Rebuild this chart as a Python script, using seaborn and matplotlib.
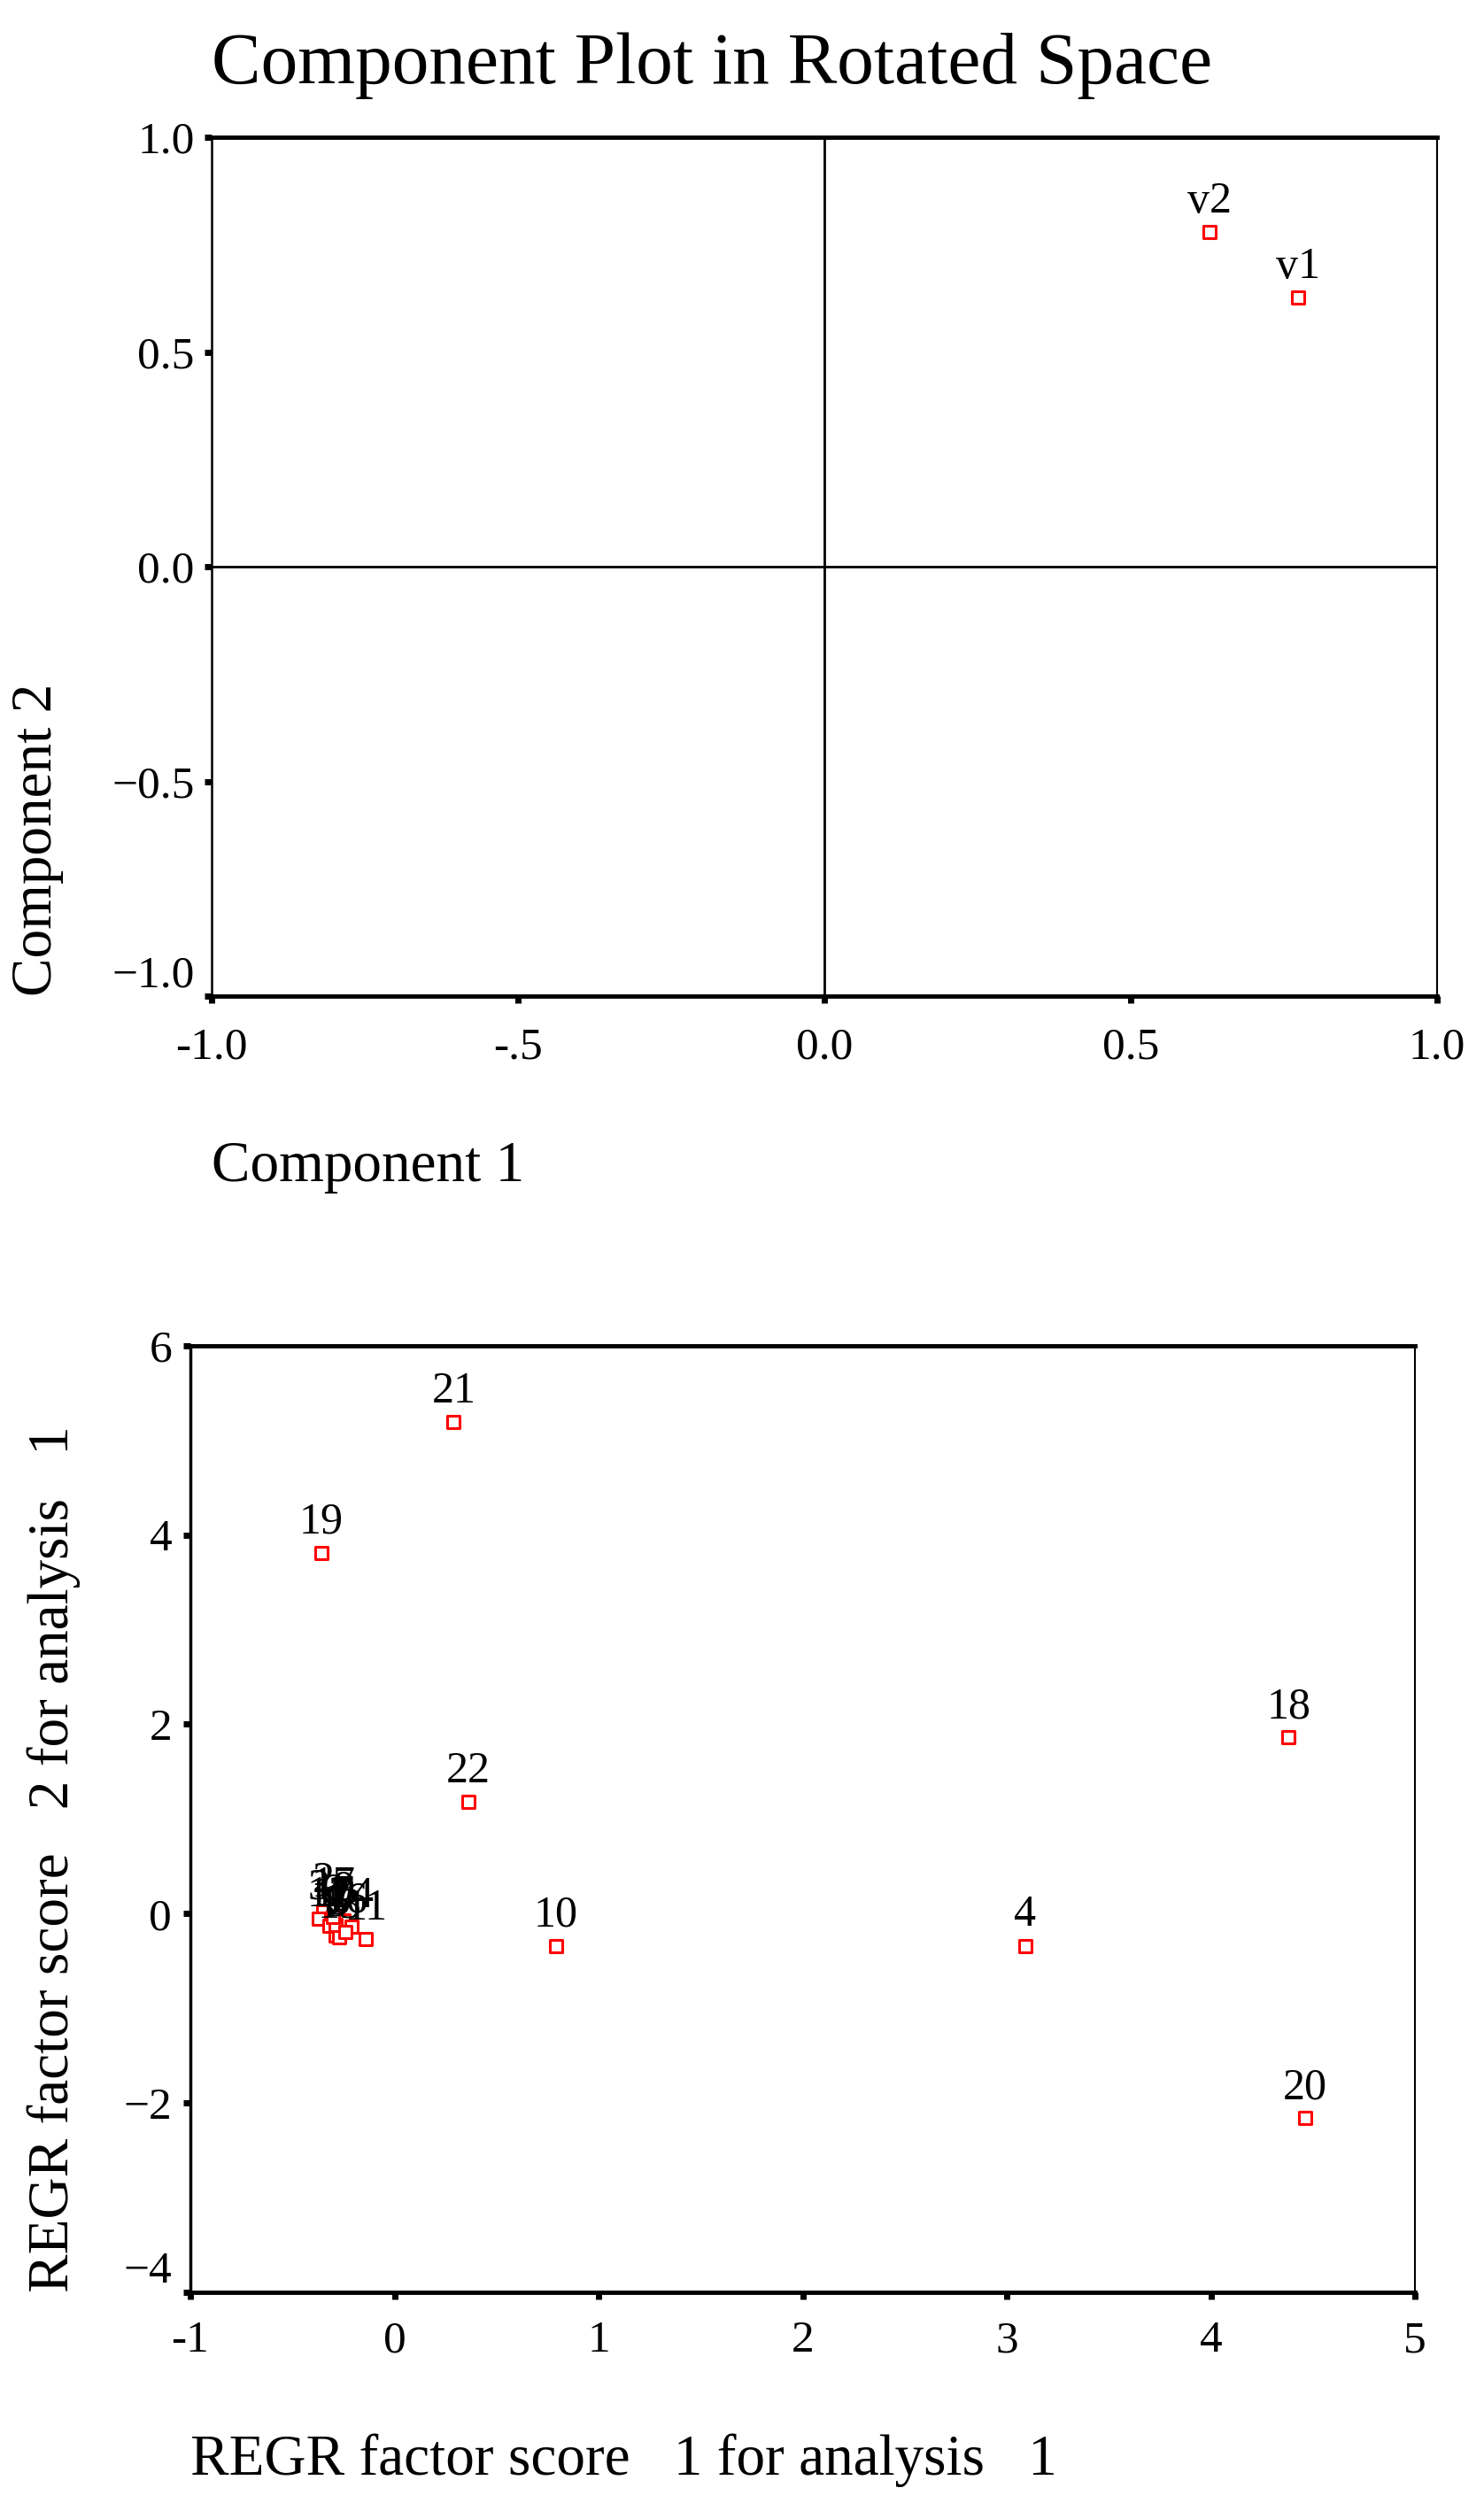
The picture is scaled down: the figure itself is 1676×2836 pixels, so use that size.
import matplotlib
matplotlib.use("Agg")
import matplotlib.pyplot as plt
import seaborn as sns
import pandas as pd

# component loadings (rotated)
var_names = ["v1", "v2"]
comp1 = [0.773, 0.629]
comp2 = [0.627, 0.780]

# regression factor scores per case
case_ids = [1, 2, 3, 4, 5, 6, 7, 8, 9, 10, 11,
            12, 13, 14, 15, 16, 17, 18, 19, 20, 21, 22]
score1 = [-0.28, -0.35, -0.37, 3.09, -0.27, -0.31, -0.26, -0.29, -0.25, 0.79, -0.14,
          -0.32, -0.27, -0.21, -0.29, -0.24, -0.30, 4.38, -0.36, 4.46, 0.29, 0.36]
score2 = [-0.18, 0.02, -0.05, -0.34, -0.21, -0.10, -0.15, -0.23, -0.07, -0.34, -0.27,
          -0.13, -0.25, -0.14, -0.12, -0.19, -0.03, 1.86, 3.81, -2.16, 5.19, 1.18]

top_xticks = [-1.0, -0.5, 0.0, 0.5, 1.0]
top_xlabels = ["-1.0", "-.5", "0.0", "0.5", "1.0"]
top_yticks = [-1.0, -0.5, 0.0, 0.5, 1.0]
top_ylabels = ["\u22121.0", "\u22120.5", "0.0", "0.5", "1.0"]
bot_xticks = [-1, 0, 1, 2, 3, 4, 5]
bot_xlabels = ["-1", "0", "1", "2", "3", "4", "5"]
bot_yticks = [-4, -2, 0, 2, 4, 6]
bot_ylabels = ["\u22124", "\u22122", "0", "2", "4", "6"]

df_load = pd.DataFrame({"c1": comp1, "c2": comp2, "name": var_names})
df_score = pd.DataFrame({"f1": score1, "f2": score2, "case": case_ids})

sns.set_style("white")
plt.rcParams['font.family'] = ['Liberation Serif', 'DejaVu Serif']
plt.rcParams.update({"text.color": "black", "axes.labelcolor": "black",
                     "xtick.color": "black", "ytick.color": "black"})

fig = plt.figure(figsize=(16.76, 28.36), dpi=100)
ax1 = fig.add_axes([0.1426, 0.6033, 0.8258, 0.3420])
ax2 = fig.add_axes([0.1283, 0.0871, 0.8252, 0.3770])

mk = dict(marker="s", s=115, color="white", edgecolor="#ff0000", linewidth=2.2, zorder=2)


def style_axes(ax, left_w):
    for side in ["top", "bottom"]:
        ax.spines[side].set_linewidth(3.5)
    ax.spines["left"].set_linewidth(left_w)
    ax.spines["right"].set_linewidth(1.5)
    for sp in ax.spines.values():
        sp.set_color("black")
    ax.tick_params(axis="both", direction="out", length=6, width=5, color="black",
                   bottom=True, left=True, top=False, right=False, labelsize=37)


# top: component plot
sns.scatterplot(data=df_load, x="c1", y="c2", ax=ax1, legend=False, **mk)
ax1.axhline(0, color="black", lw=2, zorder=1)
ax1.axvline(0, color="black", lw=2, zorder=1)
for _, r in df_load.iterrows():
    ax1.annotate(r["name"], (r["c1"], r["c2"]), xytext=(0, 16), textcoords="offset points",
                 ha="center", va="baseline", fontsize=36)
ax1.set_xlim(-1, 1)
ax1.set_ylim(-1, 1)
ax1.set_xticks(top_xticks)
ax1.set_xticklabels(top_xlabels)
ax1.set_yticks(top_yticks)
ax1.set_yticklabels(top_ylabels)
style_axes(ax1, 1.8)
ax1.tick_params(axis="x", pad=19)
ax1.tick_params(axis="y", pad=8)
ax1.get_yticklabels()[0].set_va("bottom")
ax1.set_title("Component Plot in Rotated Space", loc="left", fontsize=60, pad=44)
ax1.set_xlabel("Component 1", fontsize=47, loc="left")
ax1.xaxis.set_label_coords(0, -0.169)
ax1.xaxis.label.set_va("top")
ax1.set_ylabel("Component 2", fontsize=47, loc="bottom")
ax1.yaxis.set_label_coords(-0.121, 0)

# bottom: factor scores
sns.scatterplot(data=df_score, x="f1", y="f2", ax=ax2, legend=False, **mk)
for _, r in df_score.iterrows():
    ax2.annotate(str(int(r["case"])), (r["f1"], r["f2"]), xytext=(0, 16),
                 textcoords="offset points", ha="center", va="baseline", fontsize=36)
ax2.set_xlim(-1, 5)
ax2.set_ylim(-4, 6)
ax2.set_xticks(bot_xticks)
ax2.set_xticklabels(bot_xlabels)
ax2.set_yticks(bot_yticks)
ax2.set_yticklabels(bot_ylabels)
style_axes(ax2, 2.5)
ax2.tick_params(axis="x", pad=17)
ax2.tick_params(axis="y", pad=9)
ax2.get_yticklabels()[0].set_va("bottom")
ax2.set_xlabel("REGR factor score   1 for analysis   1", fontsize=47, loc="left")
ax2.xaxis.set_label_coords(0, -0.149)
ax2.xaxis.label.set_va("top")
ax2.set_ylabel("REGR factor score   2 for analysis   1", fontsize=47, loc="bottom")
ax2.yaxis.set_label_coords(-0.090, 0)

fig.savefig("out.png", dpi=100)
